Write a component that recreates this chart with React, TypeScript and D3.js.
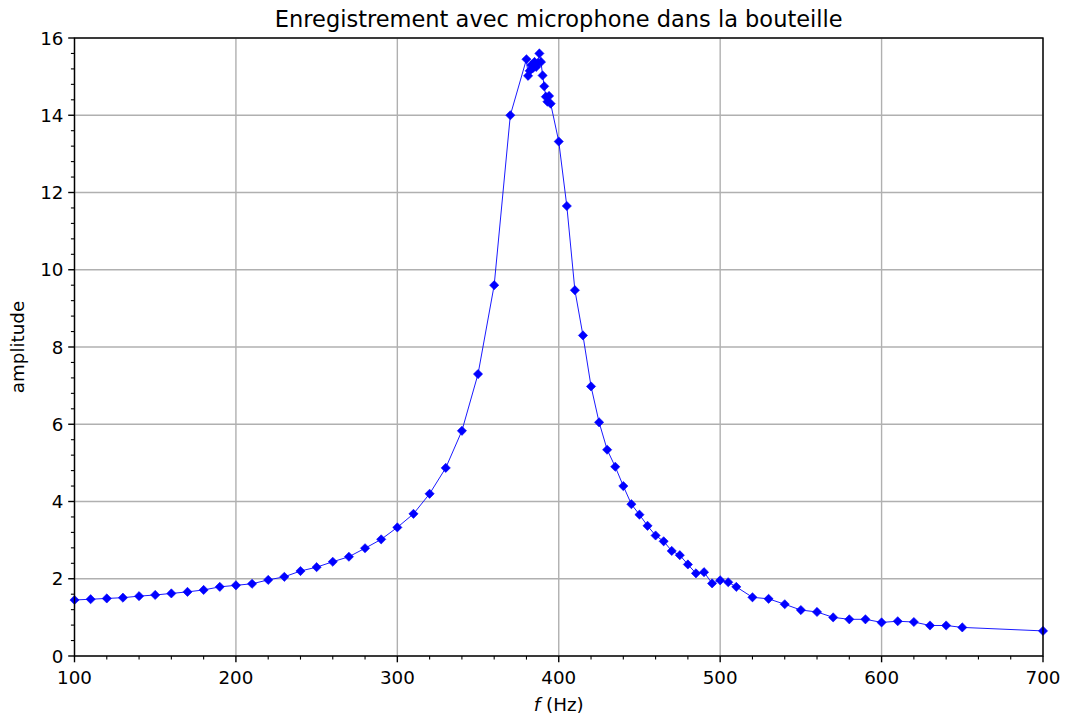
import React from "react";
import * as d3 from "d3";

const freqs = [100,110,120,130,140,150,160,170,180,190,200,210,220,230,240,250,260,270,280,290,300,310,320,330,340,350,360,370,
  380,381,382,383,384,385,386,387,388,389,390,391,392,393,394,395,400,405,410,415,420,425,430,435,440,445,450,455,460,465,470,475,480,485,490,495,500,505,510,
  520,530,540,550,560,570,580,590,600,610,620,630,640,650,700];
const amps = [1.45,1.47,1.49,1.51,1.55,1.58,1.62,1.66,1.71,1.79,1.83,1.87,1.97,2.05,2.2,2.3,2.44,2.57,2.79,3.02,3.33,3.68,4.2,4.87,5.83,7.3,9.6,14.0,
  15.45,15.02,15.15,15.3,15.22,15.38,15.25,15.35,15.6,15.38,15.03,14.75,14.48,14.35,14.5,14.3,13.32,11.65,9.47,8.3,6.98,6.05,5.34,4.9,4.4,3.93,3.66,3.37,3.12,2.97,2.72,2.61,2.37,2.14,2.17,1.88,1.96,1.91,1.79,
  1.52,1.48,1.34,1.19,1.14,1.0,0.95,0.95,0.87,0.9,0.88,0.79,0.79,0.74,0.65];
const xTicks = [100,200,300,400,500,600,700];
const yTicks = [0,2,4,6,8,10,12,14,16];
const title = "Enregistrement avec microphone dans la bouteille";
const yLabel = "amplitude";

const W = 1077, H = 717;
const L = 74.5, R = 1043, T = 38, B = 656;

export default function App() {
  const x = d3.scaleLinear().domain([100, 700]).range([L, R]);
  const y = d3.scaleLinear().domain([0, 16]).range([B, T]);
  const pts = freqs.map((f, i) => [f, amps[i]] as [number, number]);
  const line = d3.line<[number, number]>().x(d => x(d[0])).y(d => y(d[1]));
  const xMinor = d3.range(100, 701, 20).filter(v => v % 100 !== 0);
  const yMinor = d3.range(0, 16.01, 0.4).filter(v => Math.abs(v / 2 - Math.round(v / 2)) > 0.01);
  const font = "DejaVu Sans, sans-serif";
  const s = 4.6;
  return (
    <svg width={W} height={H} style={{ position: "absolute", left: 0, top: 0 }} fontFamily={font}>
      <rect width={W} height={H} fill="white" />
      {xTicks.map(t => (
        <line key={"gx" + t} x1={x(t)} x2={x(t)} y1={T} y2={B} stroke="#b0b0b0" strokeWidth={1.4} />
      ))}
      {yTicks.map(t => (
        <line key={"gy" + t} x1={L} x2={R} y1={y(t)} y2={y(t)} stroke="#b0b0b0" strokeWidth={1.4} />
      ))}
      <path d={line(pts) || ""} fill="none" stroke="#0000ff" strokeWidth={0.9} />
      {pts.map((p, i) => {
        const cx = x(p[0]), cy = y(p[1]);
        return <path key={i} d={`M${cx},${cy - s}L${cx + s},${cy}L${cx},${cy + s}L${cx - s},${cy}Z`} fill="#0000ff" stroke="#0000ff" strokeWidth={0.6} />;
      })}
      <rect x={L} y={T} width={R - L} height={B - T} fill="none" stroke="black" strokeWidth={1.4} />
      {xTicks.map(t => (
        <g key={"xt" + t}>
          <line x1={x(t)} x2={x(t)} y1={B} y2={B + 6.3} stroke="black" strokeWidth={1.4} />
          <text x={x(t)} y={B + 28} textAnchor="middle" fontSize={18.3}>{t}</text>
        </g>
      ))}
      {xMinor.map(t => (
        <line key={"xm" + t} x1={x(t)} x2={x(t)} y1={B} y2={B + 3.6} stroke="black" strokeWidth={1.1} />
      ))}
      {yTicks.map(t => (
        <g key={"yt" + t}>
          <line x1={L} x2={L - 6.3} y1={y(t)} y2={y(t)} stroke="black" strokeWidth={1.4} />
          <text x={L - 11} y={y(t) + 6.6} textAnchor="end" fontSize={18.3}>{t}</text>
        </g>
      ))}
      {yMinor.map(t => (
        <line key={"ym" + t} x1={L} x2={L - 3.6} y1={y(t)} y2={y(t)} stroke="black" strokeWidth={1.1} />
      ))}
      <text x={(L + R) / 2} y={27} textAnchor="middle" fontSize={22.5}>{title}</text>
      <text x={(L + R) / 2} y={711} textAnchor="middle" fontSize={18.3}>
        <tspan fontStyle="italic">f</tspan> (Hz)
      </text>
      <text transform={`translate(24,${(T + B) / 2}) rotate(-90)`} textAnchor="middle" fontSize={18.3}>{yLabel}</text>
    </svg>
  );
}
